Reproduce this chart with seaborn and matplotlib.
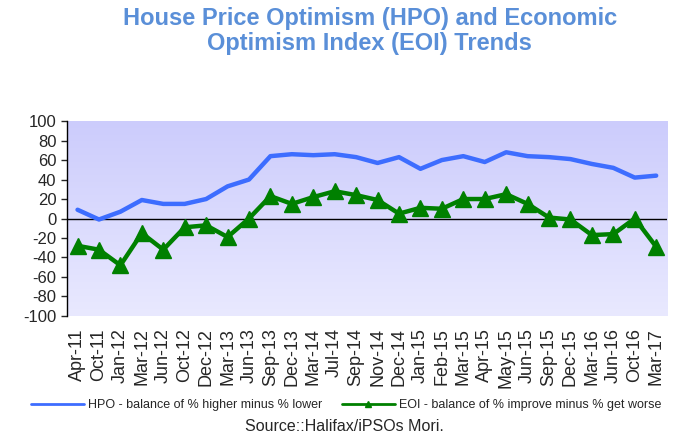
import numpy as np
import pandas as pd
import matplotlib.pyplot as plt
import matplotlib.colors as mcolors
import seaborn as sns

# survey dates and the two balances
dates = ["Apr-11", "Oct-11", "Jan-12", "Mar-12", "Jun-12", "Oct-12", "Dec-12",
         "Mar-13", "Jun-13", "Sep-13", "Dec-13", "Mar-14", "Jul-14", "Sep-14",
         "Nov-14", "Dec-14", "Jan-15", "Feb-15", "Mar-15", "Apr-15", "May-15",
         "Jun-15", "Sep-15", "Dec-15", "Mar-16", "Jun-16", "Oct-16", "Mar-17"]
hpo = [9, -1, 7, 19, 15, 15, 20, 33, 40, 64, 66, 65, 66, 63,
       57, 63, 51, 60, 64, 58, 68, 64, 63, 61, 56, 52, 42, 44]
eoi = [-28, -32, -48, -15, -32, -9, -7, -19, 0, 23, 15, 22, 28, 24,
       19, 5, 11, 10, 20, 20, 25, 15, 1, -1, -17, -16, 0, -29]

hpo_label = "HPO - balance of % higher minus % lower"
eoi_label = "EOI - balance of % improve minus % get worse"

df = pd.DataFrame({"pos": range(len(dates)), "date": dates, "hpo": hpo, "eoi": eoi})

sns.set_style("white")
plt.rcParams['font.family'] = ['Liberation Sans', 'DejaVu Sans']
plt.rcParams['axes.unicode_minus'] = False

fig = plt.figure(figsize=(6.75, 4.34), dpi=100)
ax = fig.add_axes([0.099, 0.272, 0.889, 0.449])

# lavender gradient behind the plot
grad = np.linspace(0, 1, 256).reshape(-1, 1)
lav = mcolors.LinearSegmentedColormap.from_list("lav", ["#ccccfc", "#e9e9ff"])
ax.imshow(grad, extent=[-0.5, len(dates) - 0.5, -100, 100], aspect="auto",
          cmap=lav, zorder=0)

ax.axhline(0, color="black", lw=1, zorder=1)

sns.lineplot(data=df, x="pos", y="hpo", ax=ax, color="#3d6dff", lw=3.2,
             label=hpo_label, zorder=3)
sns.lineplot(data=df, x="pos", y="eoi", ax=ax, color="#008000", lw=3.2,
             marker="^", markersize=11, markeredgecolor="#008000", markeredgewidth=1,
             label=eoi_label, zorder=4)

ax.set_xlim(-0.5, len(dates) - 0.5)
ax.set_ylim(-100, 100)
ax.set_yticks(range(-100, 101, 20))
ax.set_xticks(df["pos"])
ax.set_xticklabels(dates, rotation=90, fontsize=13)
ax.tick_params(axis="y", labelsize=12, length=4, direction="out", left=True, width=1)
ax.tick_params(axis="x", length=0, pad=9)
ax.set_xlabel("")
ax.set_ylabel("")
for s in ["top", "right", "bottom"]:
    ax.spines[s].set_visible(False)
ax.spines["left"].set_color("black")
ax.spines["left"].set_linewidth(1)

handles, labels = ax.get_legend_handles_labels()
ax.get_legend().remove()
leg = fig.legend(handles, labels, loc="center", bbox_to_anchor=(0.513, 0.067), ncol=2,
                 frameon=False, fontsize=9, handlelength=4.2, columnspacing=1.6,
                 handletextpad=0.35)
for h in leg.legend_handles:
    h.set_linewidth(2)
    h.set_markersize(5)

fig.text(0.548, 0.984, "House Price Optimism (HPO) and Economic\nOptimism Index (EOI) Trends",
         ha="center", va="top", fontsize=17, fontweight="bold", color="#5a8fd8",
         linespacing=1.12)
fig.text(0.511, 0.018, "Source::Halifax/iPSOs Mori.", ha="center", va="center", fontsize=11.5)

fig.savefig("out.png", dpi=100)
